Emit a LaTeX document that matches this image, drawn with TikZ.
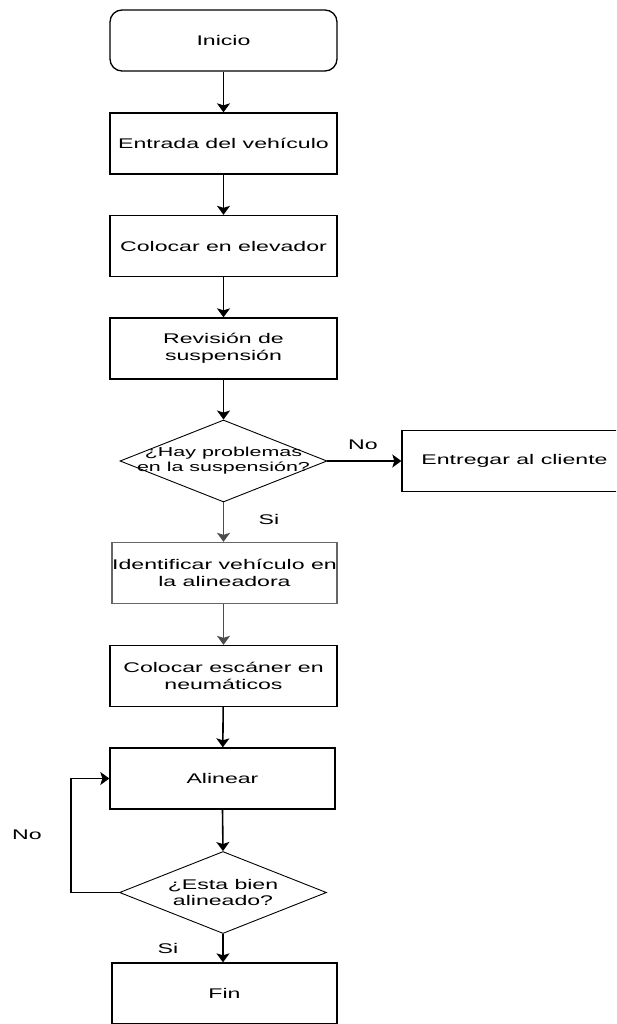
\documentclass[tikz,border=0pt]{standalone}
\usepackage{fontspec}
\setmainfont{Liberation Sans}[FakeStretch=1.65]
\usetikzlibrary{shapes.geometric,arrows.meta}
\begin{document}
\begin{tikzpicture}[x=1pt,y=-1pt,
  every node/.style={font=\fontsize{14}{16.5}\selectfont},
  procbox/.style={draw=black,line width=1.3pt,rectangle,inner sep=0pt,
    minimum width=227pt,minimum height=61pt,align=center},
  startbox/.style={procbox,rounded corners=12pt},
  decision/.style={draw=black,line width=0.9pt,diamond,inner sep=-30pt,
    minimum width=207pt,minimum height=82pt,align=center},
  flow/.style={draw=black,line width=1.6pt,
    -{Stealth[length=9pt,width=13pt,inset=2pt]}},
  lbl/.style={inner sep=0pt}]
\clip (0,0) rectangle (616,1024);
\fill[white] (0,0) rectangle (616,1024);

% process steps
\node[startbox] (inicio) at (223.5,40.5) {Inicio};
\node[procbox] (entrada) at (223.5,143.5) {Entrada del vehículo};
\node[procbox] (elevador) at (223.5,246) {Colocar en elevador};
\node[procbox] (revision) at (223.5,348.5) {Revisión de\\suspensión};
\node[decision,font=\fontsize{13}{15}\selectfont] (susp) at (223.5,461)
  {¿Hay problemas\\en la suspensión?};
\node[procbox,minimum width=225pt] (entregar) at (514.5,461) {Entregar al cliente};
\node[procbox,draw=black!60,minimum width=225pt] (identificar) at (224.5,573)
  {Identificar vehículo en\\la alineadora};
\node[procbox] (escaner) at (223.5,676) {Colocar escáner en\\neumáticos};
\node[procbox,minimum width=225pt] (alinear) at (222.5,778.5) {Alinear};
\node[decision] (bien) at (223,892.5) {¿Esta bien\\alineado?};
\node[procbox,minimum width=225pt] (fin) at (224.5,993.5) {Fin};

% connectors
\draw[flow] (inicio) -- (entrada);
\draw[flow] (entrada) -- (elevador);
\draw[flow] (elevador) -- (revision);
\draw[flow] (revision.south) -- (susp.north);
\draw[flow] (susp.east) -- (entregar.west);
\draw[flow,draw=black!70] (susp.south) -- (identificar.north -| susp.south);
\draw[flow,draw=black!70] (identificar.south -| escaner.north) -- (escaner.north);
\draw[flow] (escaner) -- (alinear);
\draw[flow] (alinear.south) -- (bien.north);
\draw[flow] (bien.west) -- ++(-48,0) |- (alinear.west);
\draw[flow] (bien.south) -- (fin.north -| bien.south);

% branch labels
\node[lbl] (noA) at (363,445) {No};
\node[lbl] (siA) at (269,519) {Si};
\node[lbl] (noB) at (27,835) {No};
\node[lbl] (siB) at (168,948) {Si};
\end{tikzpicture}
\end{document}
